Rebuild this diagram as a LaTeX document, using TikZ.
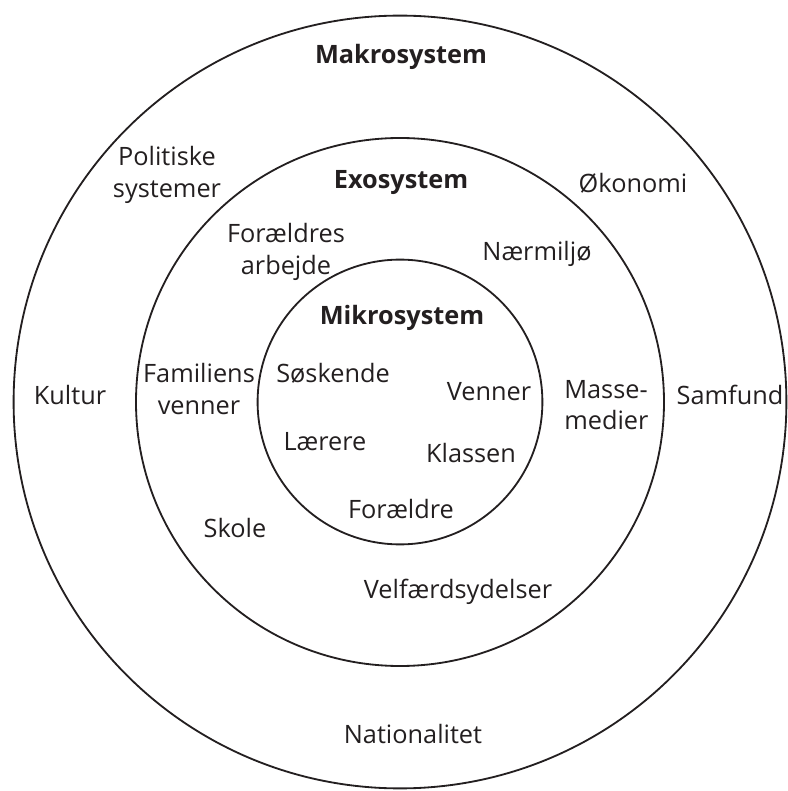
\documentclass[tikz,border=0pt]{standalone}
\usepackage{fontspec}
\setmainfont{Open Sans}

\begin{document}
\begin{tikzpicture}[
    ring/.style={line width=1.3pt, inktone},
    factor/.style={inktone, inner sep=0pt, font=\fontsize{18}{22.5}\selectfont, align=center},
    system/.style={factor, font=\fontsize{18}{22.5}\selectfont\bfseries}
  ]

  \definecolor{inktone}{RGB}{35, 31, 32}

  \useasboundingbox (-10, -9.725) rectangle (9.675, 10.05);

  % Rings
  \draw[ring] (0, 0) circle (9.66);
  \draw[ring] (0, 0) circle (6.6);
  \draw[ring] (0, 0) circle (3.56);

  % Makrosystem
  \node[system] (makro) at (0.025, 8.625) {Makrosystem};
  \node[factor] (politik) at (-5.825, 5.675) {Politiske\\systemer};
  \node[factor] (oekonomi) at (5.825, 5.475) {Økonomi};
  \node[factor] (kultur) at (-8.25, 0.175) {Kultur};
  \node[factor] (samfund) at (8.25, 0.175) {Samfund};
  \node[factor] (nation) at (0.325, -8.3) {Nationalitet};

  % Exosystem
  \node[system] (exo) at (0.025, 5.475) {Exosystem};
  \node[factor] (arbejde) at (-2.85, 3.75) {Forældres\\arbejde};
  \node[factor] (naermiljoe) at (3.425, 3.7) {Nærmiljø};
  \node[factor] (famvenner) at (-5.025, 0.325) {Familiens\\venner};
  \node[factor, anchor=west, align=left] (medier) at (4.1, -0.075) {Masse-\\medier};
  \node[factor] (skole) at (-4.125, -3.15) {Skole};
  \node[factor] (velfaerd) at (1.45, -4.75) {Velfærdsydelser};

  % Mikrosystem
  \node[system] (mikro) at (0.05, 2.1) {Mikrosystem};
  \node[factor] (soeskende) at (-1.675, 0.725) {Søskende};
  \node[factor] (venner) at (2.225, 0.25) {Venner};
  \node[factor] (laerere) at (-1.875, -1.0) {Lærere};
  \node[factor] (klassen) at (1.775, -1.275) {Klassen};
  \node[factor] (foraeldre) at (0.025, -2.675) {Forældre};

\end{tikzpicture}
\end{document}
